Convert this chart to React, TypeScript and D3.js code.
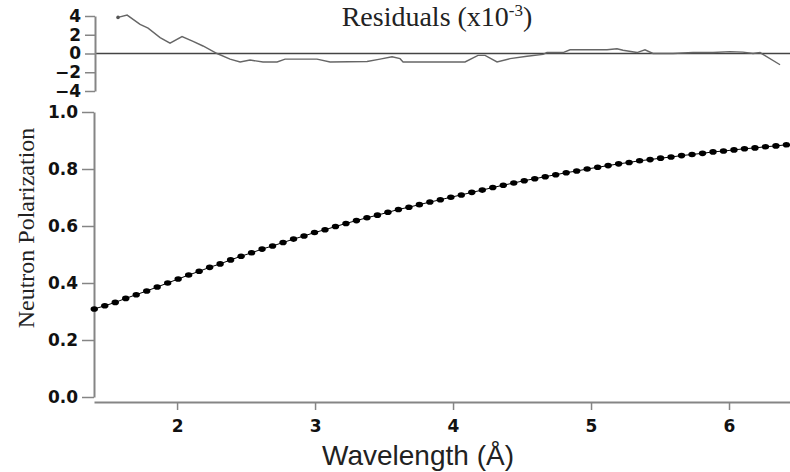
import React, { useEffect, useRef } from 'react';
import * as d3 from 'd3';

// measured wavelength grid (Å) and fitted polarization dots
const wavelength = [
  1.400, 1.476, 1.552, 1.628, 1.704, 1.780, 1.856, 1.932, 2.008, 2.084,
  2.160, 2.236, 2.312, 2.388, 2.464, 2.540, 2.616, 2.692, 2.768, 2.844,
  2.920, 2.996, 3.072, 3.148, 3.224, 3.300, 3.376, 3.452, 3.528, 3.604,
  3.680, 3.756, 3.832, 3.908, 3.984, 4.060, 4.136, 4.212, 4.288, 4.364,
  4.440, 4.516, 4.592, 4.668, 4.744, 4.820, 4.896, 4.972, 5.048, 5.124,
  5.200, 5.276, 5.352, 5.428, 5.504, 5.580, 5.656, 5.732, 5.808, 5.884,
  5.960, 6.036, 6.112, 6.188, 6.264, 6.340, 6.416,
];
const polarization = [
  0.309, 0.320, 0.332, 0.346, 0.359, 0.372, 0.386, 0.400, 0.414, 0.428,
  0.441, 0.455, 0.467, 0.481, 0.494, 0.506, 0.519, 0.530, 0.542, 0.554,
  0.565, 0.577, 0.587, 0.598, 0.609, 0.619, 0.629, 0.638, 0.648, 0.658,
  0.666, 0.675, 0.684, 0.692, 0.701, 0.709, 0.718, 0.726, 0.735, 0.743,
  0.751, 0.759, 0.766, 0.773, 0.780, 0.787, 0.793, 0.800, 0.806, 0.812,
  0.818, 0.823, 0.829, 0.833, 0.838, 0.842, 0.847, 0.851, 0.855, 0.860,
  0.863, 0.867, 0.871, 0.874, 0.878, 0.881, 0.885,
];

// residuals (x1e-3)
const residualWavelength = [
  1.572, 1.638, 1.732, 1.790, 1.877, 1.949, 2.036, 2.116, 2.188, 2.290,
  2.384, 2.457, 2.529, 2.623, 2.725, 2.783, 3.014, 3.109, 3.377, 3.471,
  3.558, 3.616, 3.638, 4.087, 4.181, 4.232, 4.319, 4.413, 4.536, 4.652,
  4.681, 4.797, 4.848, 5.116, 5.188, 5.232, 5.333, 5.391, 5.449, 5.594,
  5.739, 5.884, 6.007, 6.101, 6.174, 6.225, 6.246, 6.370,
];
const residualValues = [
  3.85, 4.1, 3.1, 2.7, 1.7, 1.1, 1.8, 1.3, 0.8, 0.0,
  -0.6, -0.9, -0.7, -0.9, -0.9, -0.6, -0.6, -0.9, -0.85, -0.6,
  -0.35, -0.55, -0.9, -0.9, -0.2, -0.2, -0.9, -0.55, -0.3, -0.1,
  0.1, 0.1, 0.4, 0.4, 0.5, 0.35, 0.1, 0.4, 0.0, 0.0,
  0.1, 0.1, 0.2, 0.15, 0.0, 0.1, -0.1, -1.2,
];

const lambdaTicks = [2, 3, 4, 5, 6];
const polTicks = [0, 0.2, 0.4, 0.6, 0.8, 1.0];
const residualTicks = [-4, -2, 0, 2, 4];

export default function App() {
  const ref = useRef<SVGSVGElement | null>(null);

  useEffect(() => {
    const svg = d3.select(ref.current);
    svg.selectAll('*').remove();

    const axisColor = '#858585';
    const tickFont = '"DejaVu Sans", sans-serif';

    const x = d3.scaleLinear().domain([1.398, 6.442]).range([94, 790]);
    const y = d3.scaleLinear().domain([0, 1]).range([397, 112]);
    const yRes = d3.scaleLinear().domain([-4, 4]).range([91, 16]);

    const styleAxis = (g: any) => {
      g.select('.domain').attr('stroke', axisColor).attr('stroke-width', 2);
      g.selectAll('.tick line').attr('stroke', axisColor).attr('stroke-width', 1.5);
      g.selectAll('.tick text')
        .attr('fill', '#111')
        .attr('font-family', tickFont)
        .attr('font-weight', 'bold')
        .attr('font-size', 17);
    };

    // residual panel
    svg.append('line')
      .attr('x1', 95).attr('x2', 790)
      .attr('y1', yRes(0)).attr('y2', yRes(0))
      .attr('stroke', '#444').attr('stroke-width', 1.3);

    svg.append('g')
      .attr('transform', 'translate(95,0)')
      .call(d3.axisLeft(yRes).tickValues(residualTicks).tickFormat(d3.format('d')).tickSize(10).tickSizeOuter(0).tickPadding(4))
      .call(styleAxis);

    const resLine = d3.line<number>()
      .x((_, i) => x(residualWavelength[i]))
      .y(d => yRes(d));
    svg.append('path')
      .datum(residualValues)
      .attr('d', resLine)
      .attr('fill', 'none')
      .attr('stroke', '#666')
      .attr('stroke-width', 1.4);
    svg.append('circle')
      .attr('cx', x(residualWavelength[0]))
      .attr('cy', yRes(residualValues[0]))
      .attr('r', 1.8)
      .attr('fill', '#555');

    const title = svg.append('text')
      .attr('x', 437).attr('y', 26)
      .attr('text-anchor', 'middle')
      .attr('font-family', '"Liberation Serif", "Times New Roman", serif')
      .attr('font-size', 28)
      .attr('fill', '#222');
    title.append('tspan').text('Residuals (x10');
    title.append('tspan').attr('font-size', 17).attr('dy', -10).text('-3');
    title.append('tspan').attr('dy', 10).text(')');

    // main panel
    svg.append('g')
      .attr('transform', 'translate(94,0)')
      .call(d3.axisLeft(y).tickValues(polTicks).tickFormat(d3.format('.1f')).tickSize(12).tickSizeOuter(0).tickPadding(4))
      .call(styleAxis);

    svg.append('g')
      .attr('transform', 'translate(0,402)')
      .call(d3.axisBottom(x).tickValues(lambdaTicks).tickFormat(d3.format('d')).tickSize(8).tickSizeOuter(0).tickPadding(10))
      .call(styleAxis);

    const fitLine = d3.line<number>()
      .x((_, i) => x(wavelength[i]))
      .y(d => y(d));
    svg.append('path')
      .datum(polarization)
      .attr('d', fitLine)
      .attr('fill', 'none')
      .attr('stroke', '#000')
      .attr('stroke-width', 1);

    svg.append('g')
      .selectAll('ellipse')
      .data(polarization)
      .enter()
      .append('ellipse')
      .attr('cx', (_, i) => x(wavelength[i]))
      .attr('cy', d => y(d))
      .attr('rx', 3.7)
      .attr('ry', 2.8)
      .attr('fill', '#000');

    svg.append('text')
      .attr('x', 418).attr('y', 465)
      .attr('text-anchor', 'middle')
      .attr('font-family', '"Liberation Sans", Arial, sans-serif')
      .attr('font-size', 28)
      .attr('fill', '#222')
      .text('Wavelength (Å)');

    svg.append('text')
      .attr('transform', 'translate(34,228) rotate(-90)')
      .attr('text-anchor', 'middle')
      .attr('font-family', '"Liberation Serif", "Times New Roman", serif')
      .attr('font-size', 24)
      .attr('fill', '#222')
      .text('Neutron Polarization');
  }, []);

  return (
    <svg
      ref={ref}
      width={790}
      height={472}
      style={{ position: 'absolute', left: 0, top: 0, background: '#fff' }}
    />
  );
}
